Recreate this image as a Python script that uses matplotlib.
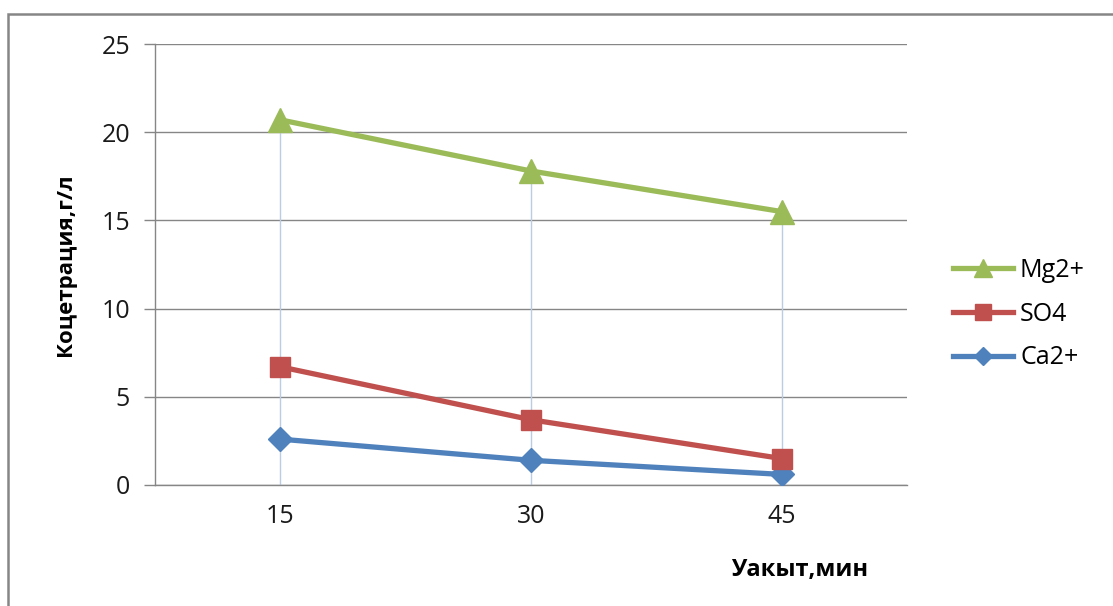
import matplotlib
matplotlib.use("Agg")
import matplotlib.pyplot as plt
from matplotlib.patches import Rectangle

plt.rcParams['font.family'] = ['Open Sans', 'DejaVu Sans']

times = ["15", "30", "45"]
mg = [20.7, 17.8, 15.5]
so4 = [6.7, 3.7, 1.5]
ca = [2.6, 1.4, 0.6]
y_ticks = [0, 5, 10, 15, 20, 25]

GRID = "#868686"
DROP = "#B9CDE5"

W, H = 1113, 606
fig = plt.figure(figsize=(W / 100, H / 100), dpi=100)
ax = fig.add_axes([155 / W, 1 - 485 / H, (907 - 155) / W, (485 - 44) / H])

x = list(range(len(times)))

# drop lines from the axis up to the highest series at each category
tops = [max(a, b, c) for a, b, c in zip(mg, so4, ca)]
ax.vlines(x, 0, tops, color=DROP, lw=1.0, zorder=1)

ax.plot(x, ca, color="#4F81BD", lw=3.8, marker="D", ms=12, zorder=3, label="Ca2+")
ax.plot(x, so4, color="#C0504D", lw=3.8, marker="s", ms=15, zorder=3, label="SO4")
ax.plot(x, mg, color="#9BBB59", lw=3.8, marker="^", ms=17, zorder=3, label="Mg2+")

ax.set_xlim(-0.5, len(times) - 0.5)
ax.set_ylim(0, 25)
ax.set_xticks(x)
ax.set_xticklabels(times)
ax.set_yticks(y_ticks)
ax.yaxis.grid(True, color=GRID, lw=1.0)
ax.set_axisbelow(True)

for side in ("top", "right"):
    ax.spines[side].set_visible(False)
for side in ("left", "bottom"):
    ax.spines[side].set_color(GRID)
    ax.spines[side].set_linewidth(1.0)

ax.tick_params(axis="y", direction="out", length=8, width=1.0, color=GRID,
               labelsize=18, labelcolor="#1a1a1a", pad=10)
ax.tick_params(axis="x", length=0, labelsize=18, labelcolor="#1a1a1a", pad=14)

fig.text(65 / W, 1 - 265 / H, "Коцетрация,г/л", rotation=90, ha="center",
         va="center", fontsize=16, fontweight="bold")
fig.text(800 / W, 1 - 570 / H, "Уакыт,мин", ha="center", va="center",
         fontsize=17, fontweight="bold")

handles, labels = ax.get_legend_handles_labels()
leg = fig.legend(handles[::-1], labels[::-1], loc="center left",
                 bbox_to_anchor=(935 / W, 1 - 314 / H), frameon=False,
                 fontsize=18, handlelength=2.4, labelspacing=0.75,
                 handletextpad=0.3, markerscale=0.75, borderpad=0.2)

# chart frame
fig.patches.append(Rectangle((8 / W, -0.1), 1.2, 1.1 - 13.5 / H,
                             transform=fig.transFigure, fill=False,
                             edgecolor=GRID, lw=1.8, clip_on=False))

fig.savefig("out.png", dpi=100)
